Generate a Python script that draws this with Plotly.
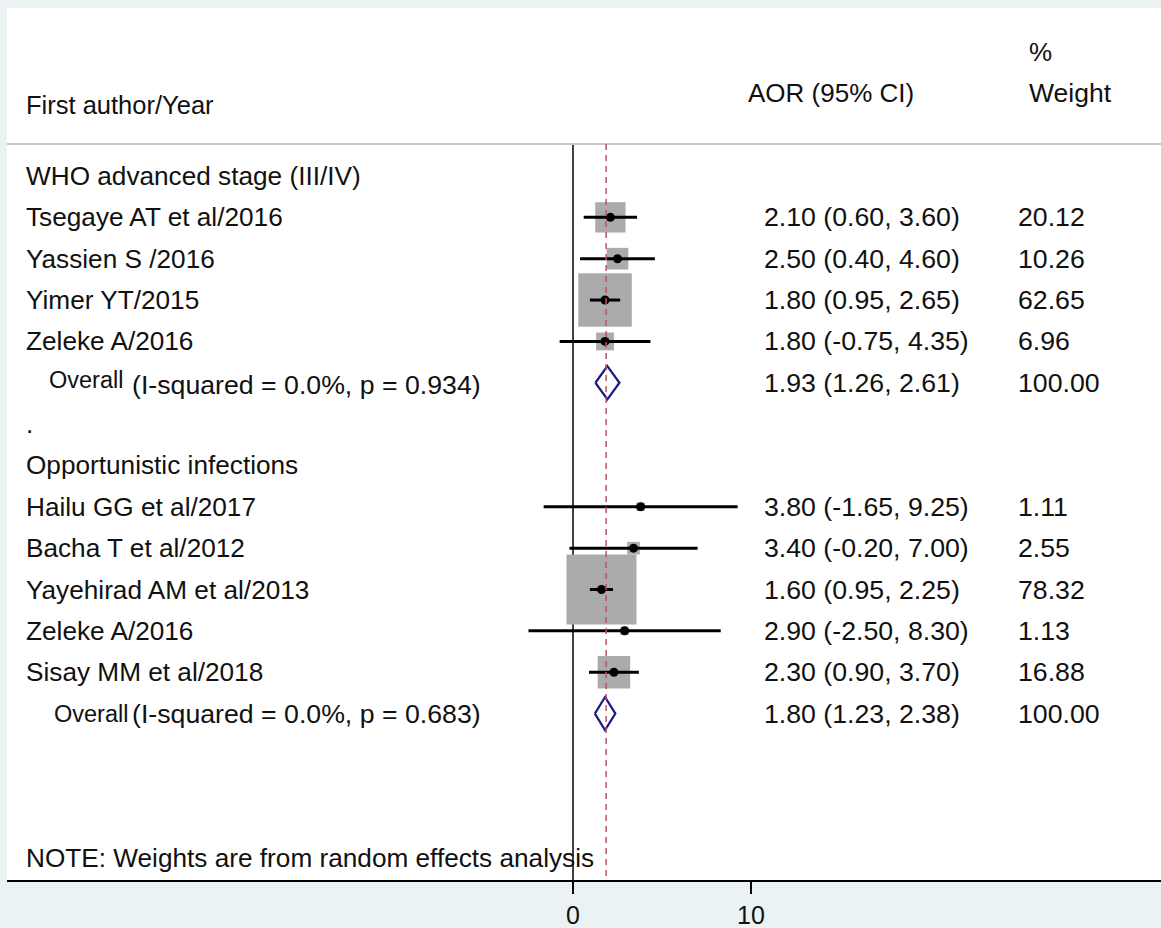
import plotly.graph_objects as go

# ---------------- data ----------------
group_names = ["WHO advanced stage (III/IV)", "Opportunistic infections"]

g1_studies = ["Tsegaye AT et al/2016", "Yassien S /2016", "Yimer YT/2015", "Zeleke A/2016"]
g1_aor = [2.10, 2.50, 1.80, 1.80]
g1_lo = [0.60, 0.40, 0.95, -0.75]
g1_hi = [3.60, 4.60, 2.65, 4.35]
g1_weight = [20.12, 10.26, 62.65, 6.96]
g1_overall = [1.93, 1.26, 2.61]
g1_het = "(I-squared = 0.0%, p = 0.934)"

g2_studies = ["Hailu GG et al/2017", "Bacha T et al/2012", "Yayehirad AM et al/2013",
              "Zeleke A/2016", "Sisay MM et al/2018"]
g2_aor = [3.80, 3.40, 1.60, 2.90, 2.30]
g2_lo = [-1.65, -0.20, 0.95, -2.50, 0.90]
g2_hi = [9.25, 7.00, 2.25, 8.30, 3.70]
g2_weight = [1.11, 2.55, 78.32, 1.13, 16.88]
g2_overall = [1.80, 1.23, 2.38]
g2_het = "(I-squared = 0.0%, p = 0.683)"

pooled_line = 1.86
tick_values = [0, 10]
header_left = "First author/Year"
header_mid = "AOR (95% CI)"
header_right_top = "%"
header_right = "Weight"
note_text = "NOTE: Weights are from random effects analysis"

# ---------------- style / geometry ----------------
W, H = 1161, 928
ML, MR, MT, MB = 7, 0, 8, 48
PX_PER_UNIT = 17.8
X0_PX = 573            # pixel of x = 0
ROW0_PX = 176          # pixel of row 0
ROW_PX = 41.35         # pixels per row
plot_w = W - ML - MR
x_range = [(ML - X0_PX) / PX_PER_UNIT, (W - MR - X0_PX) / PX_PER_UNIT]
y_range = [(H - MB - ROW0_PX) / ROW_PX, (MT - ROW0_PX) / ROW_PX]

def px_to_row(py):
    return (py - ROW0_PX) / ROW_PX

def px_to_paper(px):
    return (px - ML) / plot_w

FONT = "Liberation Sans, Arial, sans-serif"
TXT = "#111111"
BOX = "#ababab"
NAVY = "#1a1a80"
RED = "#b9525e"
LABEL_SIZE = 26.2
NUM_SIZE = 26.7
HEAD_SIZE = 25.5
BOX_SCALE = 23.2

# ---------------- build rows ----------------
groups = [
    (group_names[0], g1_studies, g1_aor, g1_lo, g1_hi, g1_weight, g1_overall, g1_het),
    (group_names[1], g2_studies, g2_aor, g2_lo, g2_hi, g2_weight, g2_overall, g2_het),
]

fig = go.Figure()
annotations = []

def label(text, px_x, row, size=LABEL_SIZE, yshift=0):
    annotations.append(dict(text=text, x=px_to_paper(px_x), xref="paper", y=row, yref="y",
                            xanchor="left", yanchor="middle", showarrow=False, yshift=yshift,
                            font=dict(family=FONT, size=size, color=TXT)))

row = 0
box_x, box_y, box_s = [], [], []
ci_x, ci_y = [], []
dot_x, dot_y = [], []
diamonds = []
for gi, (gname, studies, aor, lo, hi, wt, ov, het) in enumerate(groups):
    label(gname, 24, row)
    row += 1
    for s, e, l, h, w in zip(studies, aor, lo, hi, wt):
        se = (h - l) / 3.92
        box_x.append(e); box_y.append(row); box_s.append(BOX_SCALE / se)
        ci_x += [l, h, None]; ci_y += [row, row, None]
        dot_x.append(e); dot_y.append(row)
        label(s, 24, row)
        label(f"{e:.2f} ({l:.2f}, {h:.2f})", 762, row, NUM_SIZE)
        label(f"{w:.2f}", 1016, row, NUM_SIZE)
        row += 1
    label("Overall", 47 if gi == 0 else 52, row, 23.5, yshift=3 if gi == 0 else 0)
    label(het, 130, row, NUM_SIZE, yshift=-2 if gi == 0 else 0)
    label(f"{ov[0]:.2f} ({ov[1]:.2f}, {ov[2]:.2f})", 762, row, NUM_SIZE)
    label("100.00", 1016, row, NUM_SIZE)
    diamonds.append((ov, row))
    row += 1
    if gi < len(groups) - 1:
        label(".", 24, row, LABEL_SIZE)
        row += 1

# boxes
fig.add_trace(go.Scatter(x=box_x, y=box_y, mode="markers",
                         marker=dict(symbol="square", size=box_s, color=BOX, opacity=1,
                                     line=dict(width=0)),
                         hoverinfo="skip", showlegend=False))
# reference lines
sep_row = px_to_row(144)
fig.add_shape(type="line", xref="paper", x0=0, x1=1, yref="y", y0=sep_row, y1=sep_row,
              line=dict(color="#c8c8c8", width=2))
fig.add_shape(type="line", xref="x", x0=0, x1=0, yref="y", y0=sep_row, y1=y_range[0],
              line=dict(color="black", width=1.5), layer="below")
fig.add_shape(type="line", xref="x", x0=pooled_line, x1=pooled_line, yref="y",
              y0=sep_row, y1=y_range[0], line=dict(color=RED, width=1.5, dash="6px,5px"))
# CIs
fig.add_trace(go.Scatter(x=ci_x, y=ci_y, mode="lines", line=dict(color="black", width=3),
                         hoverinfo="skip", showlegend=False))
fig.add_trace(go.Scatter(x=dot_x, y=dot_y, mode="markers",
                         marker=dict(symbol="circle", size=9, color="black"),
                         hoverinfo="skip", showlegend=False))
# diamonds
DH = 0.40
for ov, r in diamonds:
    e, l, h = ov
    fig.add_trace(go.Scatter(x=[l, e, h, e, l], y=[r, r - DH, r, r + DH, r], mode="lines",
                             fill="toself", fillcolor="white",
                             line=dict(color=NAVY, width=2.2),
                             hoverinfo="skip", showlegend=False))

# headers
label(header_left, 24, px_to_row(105), HEAD_SIZE)
label(header_mid, 746, px_to_row(93), 26)
label(header_right_top, 1027, px_to_row(52), 26)
label(header_right, 1027, px_to_row(93), 26.5)
label(note_text, 24, px_to_row(858), LABEL_SIZE)

fig.update_layout(
    width=W, height=H,
    margin=dict(l=ML, r=MR, t=MT, b=MB, pad=0),
    paper_bgcolor="#EAF2F3", plot_bgcolor="white",
    annotations=annotations,
    xaxis=dict(range=x_range, tickvals=tick_values, ticktext=[str(v) for v in tick_values],
               ticks="outside", ticklen=12, tickwidth=1.5, tickcolor="black",
               showline=True, linecolor="black", linewidth=2, showgrid=False, zeroline=False,
               tickfont=dict(family=FONT, size=25, color=TXT), fixedrange=True),
    yaxis=dict(range=y_range, visible=False, showgrid=False, zeroline=False, fixedrange=True),
)

fig.write_html("out.html", config={"displayModeBar": False},
               post_script="document.body.style.margin='0';document.body.style.background='#EAF2F3';")
